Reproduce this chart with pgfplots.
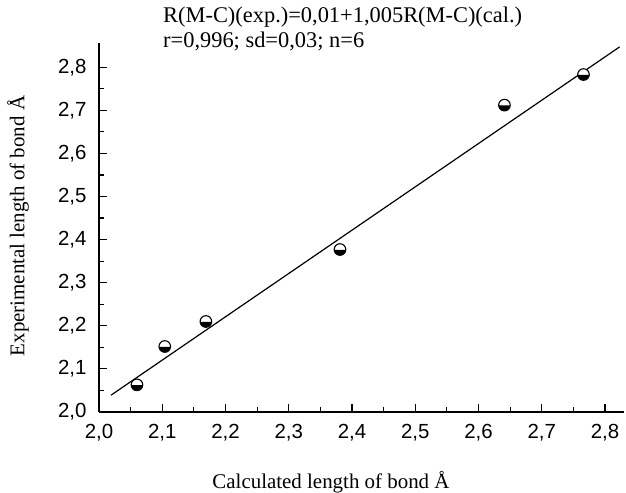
\documentclass[border=0pt]{standalone}
\usepackage{fontspec}
\setmainfont{Liberation Serif}
\newfontfamily\ticksans{Liberation Sans}
\usepackage{pgfplots}
\pgfplotsset{compat=1.18}

% ball marker: white upper half, black lower half
\pgfdeclareplotmark{halfball}{%
  \pgfpathcircle{\pgfpointorigin}{\pgfplotmarksize}%
  \pgfsetfillcolor{white}\pgfusepath{fill}%
  \pgfpathmoveto{\pgfpoint{-\pgfplotmarksize}{-0.05\pgfplotmarksize}}%
  \pgfpatharc{183}{357}{\pgfplotmarksize}%
  \pgfpathclose
  \pgfsetfillcolor{black}\pgfusepath{fill}%
  \pgfpathcircle{\pgfpointorigin}{\pgfplotmarksize}%
  \pgfusepath{stroke}%
}

\begin{document}
\begin{tikzpicture}
\useasboundingbox (-99bp,-81bp) rectangle (527bp,412bp);
\begin{axis}[
    at={(0,0)}, anchor=south west,
    x=632.5bp, y=431bp,
    xmin=2, xmax=2.83,
    ymin=2, ymax=2.855,
    axis lines=left,
    axis line style={-, line width=1.4bp},
    tick align=inside,
    major tick length=8bp,
    minor tick length=5bp,
    tick style={line width=1.2bp, black},
    xtick={2.0,2.1,...,2.8},
    ytick={2.0,2.1,...,2.8},
    minor tick num=1,
    /pgf/number format/assume math mode=true,
    /pgf/number format/.cd, fixed, fixed zerofill, precision=1, use comma,
    /pgfplots/.cd,
    tick label style={font=\ticksans\fontsize{20.5}{21}\selectfont},
    xticklabel style={yshift=-9bp},
    yticklabel style={xshift=-9bp},
    clip=false,
]
\addplot[black, line width=1.2bp] coordinates {(2.019,2.039) (2.823,2.847)};
\addplot[only marks, mark=halfball, mark size=5.8bp, mark options={line width=1.1bp}]
coordinates {
    (2.060,2.063)
    (2.104,2.152)
    (2.169,2.210)
    (2.381,2.377)
    (2.641,2.712)
    (2.766,2.783)
};
\end{axis}
\node[anchor=base west, font=\fontsize{22.5}{24}\selectfont, inner sep=0pt] at (64bp,389bp)
  {R(M-C)(exp.)=0,01+1,005R(M-C)(cal.)};
\node[anchor=base west, font=\fontsize{22.5}{24}\selectfont, inner sep=0pt] at (64bp,364bp)
  {r=0,996; sd=0,03; n=6};
\node[anchor=base, font=\fontsize{21}{23}\selectfont, inner sep=0pt] at (232bp,-76bp)
  {Calculated length of bond Å};
\node[rotate=90, font=\fontsize{21}{23}\selectfont, inner sep=0pt] at (-81bp,186bp)
  {Experimental length of bond Å};
\end{tikzpicture}
\end{document}
